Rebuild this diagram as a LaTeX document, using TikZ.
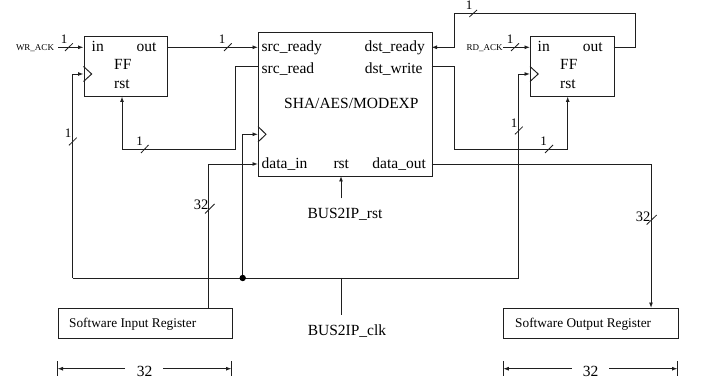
\documentclass[tikz,border=0pt]{standalone}
\usepackage{fontspec}
\setmainfont{Liberation Serif}
\usetikzlibrary{arrows.meta}
\tikzset{
  wire/.style={line width=0.95pt,black!88},
  arr/.style={wire,-{Latex[length=5.5pt,width=4pt]}},
  box/.style={draw=black!88,line width=0.95pt,fill=none,inner sep=0,minimum width=#1},
  blk/.style={draw=black!88,line width=0.95pt},
  txt/.style={inner sep=0,anchor=base west,font=\fontsize{15.5}{18}\selectfont},
  txtr/.style={inner sep=0,anchor=base east,font=\fontsize{15.5}{18}\selectfont},
  txtc/.style={inner sep=0,anchor=base,font=\fontsize{15.5}{18}\selectfont},
  small/.style={inner sep=0,anchor=base,font=\fontsize{9}{11}\selectfont},
  reg/.style={inner sep=0,anchor=base west,font=\fontsize{13.3}{15}\selectfont},
  wlab/.style={inner sep=0,anchor=base,font=\fontsize{13}{15}\selectfont},
  wlabb/.style={inner sep=0,anchor=base,font=\fontsize{14.5}{16}\selectfont},
  tick/.style={line width=0.8pt,black!88},
}
\newcommand{\tk}[4]{\draw[tick] (#1,#2) -- (#3,#4);}
\begin{document}
\begin{tikzpicture}[x=1pt,y=-1pt]
\useasboundingbox (0,0) rectangle (701,379);
% blocks
\node[blk,minimum width=83.5pt,minimum height=60.5pt,inner sep=0,anchor=north west] (ffa) at (83.5,36) {};
\node[blk,minimum width=173.5pt,minimum height=143.5pt,inner sep=0,anchor=north west] (core) at (258,32.5) {};
\node[blk,minimum width=83.5pt,minimum height=60.5pt,inner sep=0,anchor=north west] (ffb) at (530,36) {};
\node[blk,minimum width=174pt,minimum height=30pt,inner sep=0,anchor=north west] (inreg) at (57.5,308) {};
\node[blk,minimum width=174.4pt,minimum height=30pt,inner sep=0,anchor=north west] (outreg) at (503.3,308) {};
% clock triangles
\draw[wire] (83.5,66.5) -- (91.7,74) -- (83.5,81.5);
\draw[wire] (258,126.5) -- (266,134.3) -- (258,142);
\draw[wire] (530,66.5) -- (538.2,74) -- (530,81.5);
% texts FF1
\node[txt] (ffain) at (91.5,51.7) {in};
\node[txt] (ffaout) at (136.5,51.7) {out};
\node[txt] (ffaff) at (114,70) {FF};
\node[txt] (ffarst) at (114,89) {rst};
% texts FF2
\node[txt] (ffbin) at (537.5,51.7) {in};
\node[txt] (ffbout) at (582.7,51.7) {out};
\node[txt] (ffbff) at (560,70) {FF};
\node[txt] (ffbrst) at (560,89) {rst};
% core texts
\node[txt] (srcready) at (261.5,51.7) {src\_ready};
\node[txt] (srcread) at (261.5,74) {src\_read};
\node[txt] (corename) at (284,108.3) {SHA/AES/MODEXP};
\node[txt] (datain) at (261.5,168.3) {data\_in};
\node[txt] (corerst) at (333.3,168.3) {rst};
\node[txtr] (dstready) at (425,51.7) {dst\_ready};
\node[txtr] (dstwrite) at (422.7,74) {dst\_write};
\node[txtr] (dataout) at (426,168.3) {data\_out};
\node[txtc] (busrst) at (345,218.3) {BUS2IP\_rst};
\node[txtc] (busclk) at (347,335) {BUS2IP\_clk};
\node[small] (wrack) at (35,51) {WR\_ACK};
\node[small] (rdack) at (484.5,51) {RD\_ACK};
\node[reg] (intext) at (69,327.3) {Software Input Register};
\node[reg] (outtext) at (515,327.3) {Software Output Register};
% ports
\coordinate (wrs) at (58,47.3);
\coordinate (wre) at (83.5,47.3);
\coordinate (rds) at (503.3,47.3);
\coordinate (rde) at (530,47.3);
\coordinate (fao) at (167,47.3);
\coordinate (csr) at (258,47.3);
\coordinate (csd) at (258,66);
\coordinate (far) at (122,96.5);
\coordinate (ckb) at (83.5,74);
\coordinate (ckc) at (258,134.3);
\coordinate (ckf) at (530,74);
\coordinate (cdi) at (258,164);
\coordinate (cdo) at (431.5,164);
\coordinate (cdr) at (431.5,47.3);
\coordinate (cdw) at (431.5,66);
\coordinate (fbo) at (613.5,47.3);
\coordinate (fbr) at (567.7,96.5);
\coordinate (irt) at (208.5,308);
\coordinate (ort) at (651,308);
\coordinate (bl) at (72.5,278);
\coordinate (br) at (518.5,278);
\coordinate (jn) at (242.7,278);
\coordinate (bt) at (341,278);
\coordinate (bb) at (341,315);
\coordinate (rsts) at (341,198.5);
\coordinate (rste) at (341,176);
% connectors
\draw[arr] (wrs) -- (wre);
\draw[arr] (rds) -- (rde);
\draw[arr] (fao) -- (csr);
\draw[arr] (csd) -- (235.5,66) -- (235.5,149.5) -- (122,149.5) -- (far);
\draw[arr] (bl) -- (ckb -| bl) -- (ckb);
\draw[wire] (bl) -- (br);
\draw[arr] (br) -- (ckf -| br) -- (ckf);
\draw[arr] (jn) -- (ckc -| jn) -- (ckc);
\fill[black] (jn) circle (3.2pt);
\draw[arr] (irt) -- (cdi -| irt) -- (cdi);
\draw[wire] (bt) -- (bb);
\draw[arr] (rsts) -- (rste);
\draw[arr] (fbo) -- (635.7,47.3) -- (635.7,13.3) -- (454.3,13.3) -- (454.3,47.3) -- (cdr);
\draw[arr] (cdw) -- (454.3,66) -- (454.3,149.5) -- (567.7,149.5) -- (fbr);
\draw[arr] (cdo) -- (ort |- cdo) -- (ort);
% ticks and labels
\tk{65}{51}{72.8}{43.3} \node[wlab] (la) at (64,43.3) {1};
\tk{224}{51}{231.7}{43.3} \node[wlab] (lb) at (222,43.3) {1};
\tk{141}{153}{148.5}{145} \node[wlab] (lc) at (139.5,146) {1};
\tk{69}{145.3}{76.7}{137.7} \node[wlab] (ld) at (68,138) {1};
\tk{469.3}{17}{477}{10} \node[wlab] (le) at (469,9.3) {1};
\tk{511}{51}{519}{43.3} \node[wlab] (lf) at (510,43.3) {1};
\tk{515}{134.3}{522.7}{126.7} \node[wlab] (lg) at (514,127.3) {1};
\tk{545}{153}{553}{145} \node[wlab] (lh) at (543.5,146) {1};
\tk{205}{213.5}{214.5}{204} \node[wlabb] (li) at (201,210) {32};
\tk{646.7}{224.5}{656.7}{215} \node[wlabb] (lj) at (643,221.7) {32};
% dimension lines
\coordinate (dal) at (57.5,368.7);
\coordinate (dar) at (231.5,368.7);
\coordinate (dbl) at (503.3,368.7);
\coordinate (dbr) at (677.5,368.7);
\node[txtc] (da) at (144.5,376) {32};
\node[txtc] (db) at (590.5,376) {32};
\draw[arr] (125,368.7) -- (dal);
\draw[arr] (163.3,368.7) -- (dar);
\draw[arr] (571.7,368.7) -- (dbl);
\draw[arr] (609,368.7) -- (dbr);
\draw[wire] (57.5,361) -- (57.5,376);
\draw[wire] (231.5,361) -- (231.5,376);
\draw[wire] (503.3,361) -- (503.3,376);
\draw[wire] (677.5,361) -- (677.5,376);
\end{tikzpicture}
\end{document}
